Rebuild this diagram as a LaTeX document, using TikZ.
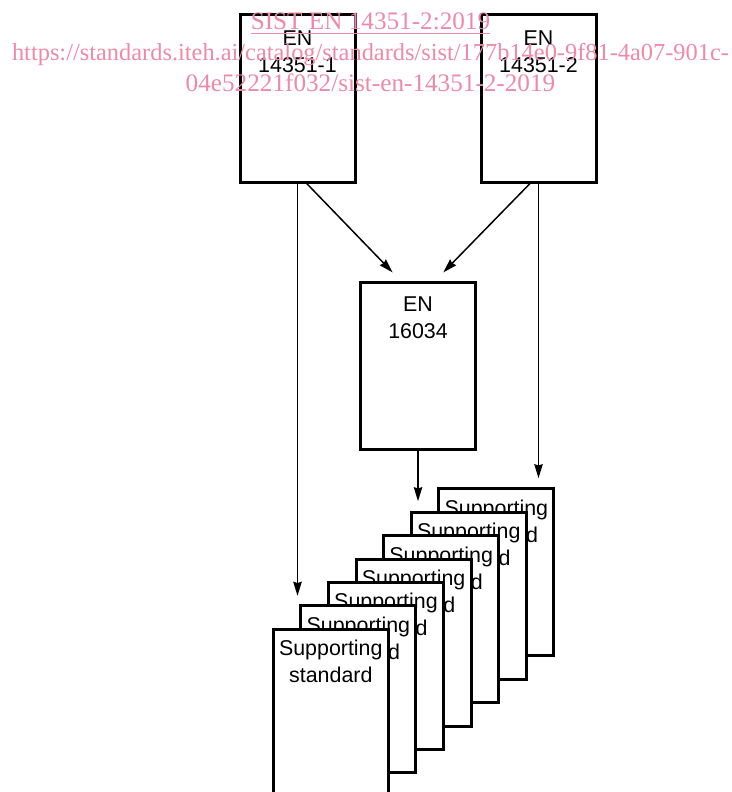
\documentclass[tikz,border=0pt]{standalone}
\usepackage{fontspec}
\setmainfont{Liberation Sans}
\newfontfamily\wmfont{Liberation Serif}
\usepackage{xcolor}
\definecolor{wmPink}{HTML}{EE8AA8}
\usepackage{tikz}
\usetikzlibrary{arrows.meta, positioning}

\begin{document}
\begin{tikzpicture}[
    x=0.5pt, y=-0.5pt,
    docbox/.style={rectangle, draw=black, fill=white, line width=1.5pt,
                   minimum width=57.5pt, minimum height=83.5pt, inner sep=0pt},
    doctext/.style={align=center, inner sep=0pt,
                   font=\fontsize{10.7}{13.5}\selectfont},
    arrow/.style={-{Stealth[length=7pt,width=4.2pt,inset=0.6pt]}, line width=0.75pt},
    wmark/.style={align=center, inner sep=0pt, text=wmPink,
                  font=\wmfont\fontsize{12.6}{15.5}\selectfont}
]
\useasboundingbox (0,0) rectangle (732,792);
\clip (0,0) rectangle (732,792);

\node[docbox] (en1) at (297.5,98.5) {};
\node[doctext, below=8.2pt of en1.north] (en1text) {EN\\14351-1};
\node[docbox] (en2) at (538.5,98.5) {};
\node[doctext, below=8.2pt of en2.north] (en2text) {EN\\14351-2};
\node[docbox] (en3) at (418,365.8) {};
\node[doctext, below=8pt of en3.north] (en3text) {EN\\16034};

% stack of supporting standards, back to front
\foreach \i in {7,...,1}{
  \node[docbox] (sup\i) at ({330.8+(\i-1)*27.6},{712.8-(\i-1)*23.4}) {};
  \node[doctext, below=6pt of sup\i.north] (suptext\i) {Supporting\\standard};
}

\draw[arrow] ([xshift=4.6pt]en1.south) -- ([xshift=-12.7pt,yshift=4.2pt]en3.north);
\draw[arrow] ([xshift=-4.25pt]en2.south) -- ([xshift=12.65pt,yshift=4.2pt]en3.north);
\draw[arrow, shorten >=16pt] (en1.south) -- (en1.south |- sup1.north);
\draw[arrow, shorten >=4.6pt] (en2.south) -- (en2.south |- sup7.north);
\draw[arrow, shorten >=4.8pt] (en3.south) -- (en3.south |- sup6.north);

\node[wmark, anchor=north] (wm) at (370.5,12.6)
    {\underline{SIST EN 14351-2:2019}\\
     {\fontsize{12.2}{15.5}\selectfont https://standards.iteh.ai/catalog/standards/sist/177b14e0-9f81-4a07-901c-}\\
     04e52221f032/sist-en-14351-2-2019};
\end{tikzpicture}
\end{document}
